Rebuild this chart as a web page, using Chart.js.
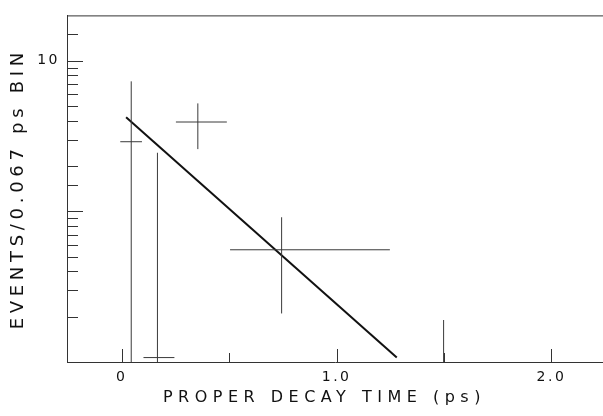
<!DOCTYPE html>
<html>
<head>
<meta charset="utf-8">
<script src="https://cdn.jsdelivr.net/npm/chart.js@4"></script>
<style>
  html, body { margin: 0; padding: 0; background: #fff; overflow: hidden; }
  #wrap { width: 603px; height: 416px; }
</style>
</head>
<body>
<div id="wrap"><canvas id="decayChart"></canvas></div>
<script>
// bins of proper decay time (ps)
const binCenter = [0.044, 0.166, 0.354, 0.744, 1.498];
const binLow    = [-0.007, 0.101, 0.252, 0.504, null];
const binHigh   = [0.094, 0.245, 0.489, 1.248, null];
// events per bin, with error range
const events    = [2.9, 0.107, 3.92, 0.556, null];
const errLow    = [0.1, 0.1, 2.59, 0.21, 0.1];
const errHigh   = [7.3, 2.45, 5.21, 0.914, 0.19];
// fitted exponential (straight on log axis)
const fitTime   = [0.02, 1.28];
const fitEvents = [4.22, 0.107];

const xTicks = [0, 0.5, 1, 1.5, 2];
const xTickLabels = ['0', '', '1.0', '', '2.0'];
const yTickLabels = [10];

// horizontal and vertical bars, split by gaps
const bars = [];
binCenter.forEach((t, i) => {
  if (events[i] !== null) {
    bars.push({x: binLow[i], y: events[i]}, {x: binHigh[i], y: events[i]}, {x: t, y: null});
  }
  bars.push({x: t, y: errLow[i]}, {x: t, y: errHigh[i]}, {x: t, y: null});
});

const fit = fitTime.map((t, i) => ({x: t, y: fitEvents[i]}));

// wide old-style lettering: spacing picked from the font size in use
const letterGap = { 14: 2.5, 16: 5.5, 18: 4.7 };
const spacing = {
  id: 'spacing',
  beforeDraw(chart) {
    const ctx = chart.ctx;
    if (ctx._spaced) return;
    const fill = ctx.fillText;
    ctx.fillText = function (text, x, y, maxWidth) {
      const m = /(\d+(\.\d+)?)px/.exec(this.font);
      this.letterSpacing = ((m && letterGap[parseFloat(m[1])]) || 0) + 'px';
      return maxWidth === undefined ? fill.call(this, text, x, y) : fill.call(this, text, x, y, maxWidth);
    };
    ctx._spaced = true;
  }
};

// inward tick marks and top frame line
const frame = {
  id: 'frame',
  afterDraw(chart) {
    const {ctx, chartArea: a, scales: {x, y}} = chart;
    ctx.save();
    ctx.strokeStyle = '#333';
    ctx.lineWidth = 1;
    ctx.beginPath();
    ctx.moveTo(a.left, a.top + 0.5);
    ctx.lineTo(a.right, a.top + 0.5);
    y.ticks.forEach(tk => {
      const v = tk.value;
      if (v <= y.min || v >= y.max) return;
      const lg = Math.log10(v);
      const len = Math.abs(lg - Math.round(lg)) < 1e-6 ? 16 : 11;
      const py = Math.round(y.getPixelForValue(v)) + 0.5;
      ctx.moveTo(a.left, py);
      ctx.lineTo(a.left + len, py);
    });
    x.ticks.forEach(tk => {
      const len = Number.isInteger(tk.value) ? 13 : 9;
      const px = Math.round(x.getPixelForValue(tk.value)) + 0.5;
      ctx.moveTo(px, a.bottom);
      ctx.lineTo(px, a.bottom - len);
    });
    ctx.stroke();
    ctx.restore();
  }
};

new Chart(document.getElementById('decayChart'), {
  type: 'scatter',
  data: {
    datasets: [
      {
        label: 'data',
        data: bars,
        showLine: true,
        spanGaps: false,
        borderColor: '#3a3a3a',
        borderWidth: 1,
        pointRadius: 0
      },
      {
        label: 'fit',
        data: fit,
        showLine: true,
        borderColor: '#111',
        borderWidth: 2,
        pointRadius: 0
      }
    ]
  },
  options: {
    responsive: true,
    maintainAspectRatio: false,
    animation: false,
    layout: { padding: { left: 0, top: 9, right: 0, bottom: 0 } },
    plugins: {
      legend: { display: false },
      tooltip: { enabled: false }
    },
    scales: {
      x: {
        type: 'linear',
        min: -0.255,
        max: 2.24,
        afterBuildTicks: (s) => { s.ticks = xTicks.map(v => ({value: v})); },
        afterFit: (s) => { s.height = 54; },
        grid: { display: false, drawTicks: false },
        border: { display: true, color: '#333', width: 1 },
        ticks: {
          autoSkip: false,
          maxRotation: 0,
          padding: 7,
          color: '#111',
          font: { family: 'DejaVu Sans', size: 14 },
          callback: (v) => xTickLabels[xTicks.indexOf(v)] ?? ''
        },
        title: {
          display: true,
          text: 'PROPER DECAY TIME (ps)  ',
          color: '#111',
          padding: { top: 0, bottom: 9 },
          font: { family: 'DejaVu Sans', size: 16 }
        }
      },
      y: {
        type: 'logarithmic',
        min: 0.1,
        max: 20,
        afterFit: (s) => { s.width = 67; },
        grid: { display: false, drawTicks: false },
        border: { display: true, color: '#333', width: 1 },
        ticks: {
          autoSkip: false,
          padding: 7,
          color: '#111',
          font: { family: 'DejaVu Sans', size: 14 },
          callback: (v) => yTickLabels.some(l => Math.abs(l - v) < 1e-9) ? String(v) : ''
        },
        title: {
          display: true,
          text: 'EVENTS/0.067 ps BIN',
          color: '#111',
          padding: { top: 8, bottom: 0 },
          font: { family: 'DejaVu Sans', size: 18 }
        }
      }
    }
  },
  plugins: [spacing, frame]
});
</script>
</body>
</html>
